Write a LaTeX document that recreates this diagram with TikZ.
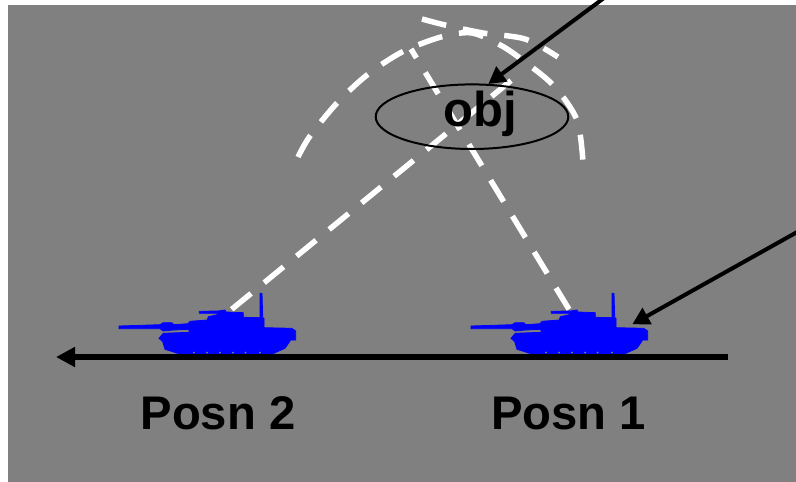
\documentclass[tikz,border=0pt]{standalone}
\usepackage{fontspec}
\setmainfont{Liberation Sans}
\usetikzlibrary{arrows.meta,shapes.geometric}

\definecolor{fieldgray}{HTML}{808080}
\definecolor{tankblue}{HTML}{0000FF}

\tikzset{
  shotline/.style={draw=white, line width=5.5pt, dash pattern=on 25pt off 17pt},
  pointer/.style={draw=black, line width=4pt, -{Triangle[length=17pt,width=18pt]}},
  biglabel/.style={inner sep=0pt, font=\bfseries\fontsize{47.2}{50}\selectfont}
}

% hull, turret, gun and antenna of one tank
\newcommand{\tankshape}{
\filldraw [draw=tankblue, fill=tankblue, line width=0.8pt, line join=round] (119, 326) -- (160, 324.7) -- (163.3, 322.7) -- (171.7, 322.7)
  -- (174, 324.7) -- (188, 323.7) -- (190, 321.3) -- (207.3, 320) -- (208.3, 316.7)
  -- (217.3, 314.7) -- (217.3, 313.3) -- (199.3, 313.3) -- (199.3, 311.3)
  -- (218.3, 311) -- (225, 310) -- (226, 312) -- (243.3, 312.7) -- (243.3, 317.3)
  -- (260, 317.7) -- (260, 293.3) -- (262, 293.3) -- (262.7, 317.7) -- (264, 318.3)
  -- (264, 327.7) -- (291.7, 328.3) -- (295.7, 331) -- (295.7, 340) -- (290.7, 340)
  -- (285, 348.3) -- (273.3, 353.5) -- (178.3, 353.5) -- (165, 349.3) -- (162.7, 341.7)
  -- (159, 338.3) -- (163.3, 333.3) -- (190, 332.3) -- (188.3, 329.3) -- (173.3, 330)
  -- (163.3, 331) -- (160, 328.7) -- (119, 328.7) -- cycle;
\foreach \wheelx in {194, 207, 220, 233, 245.5, 260} {
  \fill [fieldgray] (\wheelx, 352.5) circle (1);
}
}

\begin{document}
\begin{tikzpicture}[x=1pt, y=-1pt]
\useasboundingbox (0, 0) rectangle (796, 482);
\fill [fieldgray] (8, 5) rectangle (796, 482);

\begin{scope}[shift={(0, 0)}]
\tankshape
\end{scope}
\begin{scope}[shift={(352, 0)}]
\tankshape
\end{scope}

% flight paths from both firing positions
\coordinate (muzzleb) at (231.7, 309.3);
\coordinate (impactb) at (511.7, 80);
\coordinate (muzzlea) at (569, 309.3);
\coordinate (impacta) at (411, 49);
\draw [shotline] (muzzleb) -- (impactb);
\draw [shotline] (muzzlea) -- (impacta);
\draw [shotline] plot [smooth] coordinates {(298, 157) (310, 136) (337, 103) (367, 75) (402, 52) (441, 37) (472, 33) (502, 46) (525, 62) (554, 86) (577, 120) (583, 162)};
\draw [shotline] plot [smooth] coordinates {(422, 19) (445, 25) (483, 33) (525, 39) (558, 57)};

\node [draw=black, line width=2pt, ellipse, minimum width=192.6pt, minimum height=64.6pt, inner sep=0pt] (target) at (472, 116.7) {};
\node [biglabel, font=\bfseries\fontsize{49}{50}\selectfont] (obj) at (480, 114) {obj};

% road and direction of travel
\coordinate (roadstart) at (728, 357);
\coordinate (roadend) at (56, 357);
\draw [draw=black, line width=5.5pt, -{Triangle[length=19pt,width=19pt]}] (roadstart) -- (roadend);

\coordinate (pointera) at (604, -2);
\coordinate (obytip) at (488.3, 84);
\draw [pointer] (pointera) -- (obytip);
\coordinate (pointerb) at (799, 231);
\coordinate (tanktip) at (632.3, 324.3);
\draw [pointer] (pointerb) -- (tanktip);

\node [biglabel] (posnb) at (218, 413) {Posn 2};
\node [biglabel] (posna) at (568.5, 413) {Posn 1};
\end{tikzpicture}
\end{document}
